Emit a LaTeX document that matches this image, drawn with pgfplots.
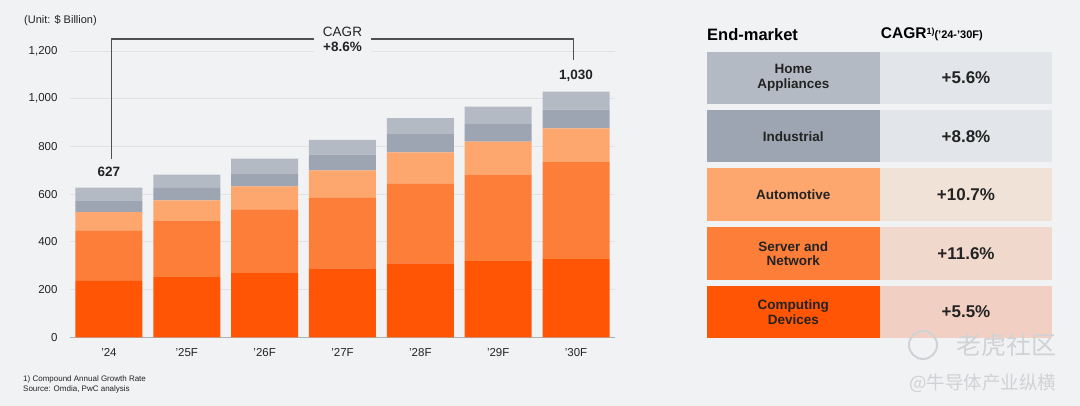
\documentclass[border=0pt]{standalone}
\usepackage{pgfplots}
\usepackage{pgfplotstable}
\pgfplotsset{compat=1.18}
\usepackage{fontspec}
\setmainfont{Liberation Sans}
\newfontfamily\cjk{Noto Sans CJK SC}
\definecolor{bg}{RGB}{241,242,244}
\definecolor{gridc}{RGB}{224,226,229}
\definecolor{basec}{RGB}{175,177,180}
\definecolor{homec}{RGB}{180,186,195}
\definecolor{indc}{RGB}{158,165,178}
\definecolor{autoc}{RGB}{253,166,110}
\definecolor{servc}{RGB}{253,126,57}
\definecolor{compc}{RGB}{255,85,5}
\definecolor{rgray}{RGB}{226,229,233}
\definecolor{rauto}{RGB}{241,226,216}
\definecolor{rserv}{RGB}{241,216,205}
\definecolor{rcomp}{RGB}{241,208,195}
\definecolor{txt}{RGB}{35,35,35}
\definecolor{brk}{RGB}{80,80,80}
\definecolor{wm}{RGB}{208,210,213}
\pgfplotstableread{
x comp serv auto ind home
0 237 209 79 46 56
1 252 235 87 52 56
2 269 265 99 54 62
3 289 295 116 66 62
4 310 333 132 77 67
5 319 361 140 77 70
6 328 406 142 78 76
}\datatable
\begin{document}
\begin{tikzpicture}
\path[use as bounding box, fill=bg] (0,0) rectangle (1080bp,406bp);
\begin{axis}[
  at={(70bp,68.7bp)}, anchor=south west,
  scale only axis, width=545bp, height=286.3bp,
  xmin=-0.5, xmax=6.5, ymin=0, ymax=1200,
  ybar stacked, bar width=67bp,
  xtick={0,1,2,3,4,5,6},
  xticklabels={’24,’25F,’26F,’27F,’28F,’29F,’30F},
  ytick={0,200,400,600,800,1000,1200},
  yticklabels={0,200,400,600,800,{1,000},{1,200}},
  ymajorgrids, grid style={color=gridc, line width=0.8bp},
  axis line style={draw=none},
  major tick length=0pt,
  tick label style={font=\fontsize{11.5bp}{13bp}\selectfont, text=txt},
  yticklabel style={anchor=east, xshift=-9bp},
  xticklabel style={anchor=north, yshift=-8bp},
  clip=false,
]
\addplot[fill=compc, draw=none] table[x=x, y=comp] {\datatable};
\addplot[fill=servc, draw=none] table[x=x, y=serv] {\datatable};
\addplot[fill=autoc, draw=none] table[x=x, y=auto] {\datatable};
\addplot[fill=indc, draw=none] table[x=x, y=ind] {\datatable};
\addplot[fill=homec, draw=none] table[x=x, y=home] {\datatable};
\draw[basec, line width=1bp] (axis cs:-0.5,0) -- (axis cs:6.5,0);
\draw[brk, line width=1.5bp] (axis cs:0.03,747) -- (axis cs:0.03,1251) -- (axis cs:2.63,1251);
\draw[brk, line width=1.5bp] (axis cs:3.37,1251) -- (axis cs:5.97,1251) -- (axis cs:5.97,1162);
\node[font=\fontsize{13.5bp}{15bp}\selectfont\bfseries, text=txt] at (axis cs:0,694) {627};
\node[font=\fontsize{13.5bp}{15bp}\selectfont\bfseries, text=txt] at (axis cs:6,1096) {1,030};
\node[fill=bg, inner xsep=9bp, inner ysep=1bp, font=\fontsize{13.5bp}{15bp}\selectfont, text=txt] at (axis cs:3,1281) {CAGR};
\node[fill=bg, inner xsep=9bp, inner ysep=1bp, font=\fontsize{13.5bp}{15bp}\selectfont\bfseries, text=txt] at (axis cs:3,1218) {+8.6\%};
\end{axis}
\begin{scope}[yshift=406bp, x=1bp, y=-1bp]
\node[anchor=west, font=\fontsize{11bp}{12bp}\selectfont, text=txt, inner sep=0] at (24,20.7) {(Unit: \$ Billion)};
\node[anchor=west, font=\fontsize{8bp}{9bp}\selectfont, text=txt, inner sep=0] at (23,379.3) {1) Compound Annual Growth Rate};
\node[anchor=west, font=\fontsize{8bp}{9bp}\selectfont, text=txt, inner sep=0] at (23,389.3) {Source: Omdia, PwC analysis};
% table
\node[anchor=west, font=\fontsize{16.5bp}{18bp}\selectfont\bfseries, text=black, inner sep=0] at (707,34.5) {End-market};
\node[anchor=west, text=black, inner sep=0] at (880.7,34.5) {{\fontsize{15.5bp}{16bp}\selectfont\bfseries CAGR}\raisebox{4bp}{\fontsize{9bp}{9bp}\selectfont\bfseries 1)}{\fontsize{11bp}{12bp}\selectfont\bfseries(’24-’30F)}};
\foreach \t/\lc/\rc/\lab/\val in {51.7/homec/rgray/{Home\\Appliances}/{+5.6\%},110/indc/rgray/{Industrial}/{+8.8\%},168.3/autoc/rauto/{Automotive}/{+10.7\%},227.3/servc/rserv/{Server and\\Network}/{+11.6\%},285.7/compc/rcomp/{Computing\\Devices}/{+5.5\%}}{
  \fill[\lc] (706.7,\t) rectangle (880,\t+52.5);
  \fill[\rc] (880,\t) rectangle (1052,\t+52.5);
  \node[align=center, font=\fontsize{13.5bp}{14.7bp}\selectfont\bfseries, text=txt] at (793.3,\t+26.25) {\lab};
  \node[font=\fontsize{17bp}{18bp}\selectfont\bfseries, text=txt] at (966,\t+26.25) {\val};
}
% watermark
\draw[wm, line width=2bp] (923,345) circle (14);
\node[font=\cjk\fontsize{25bp}{26bp}\selectfont, text=wm, anchor=west, inner sep=0] at (956,345) {老虎社区};
\node[font=\cjk\fontsize{18.5bp}{20bp}\selectfont, text=wm, anchor=west, inner sep=0] at (909,383.3) {@牛导体产业纵横};
\end{scope}
\end{tikzpicture}
\end{document}
